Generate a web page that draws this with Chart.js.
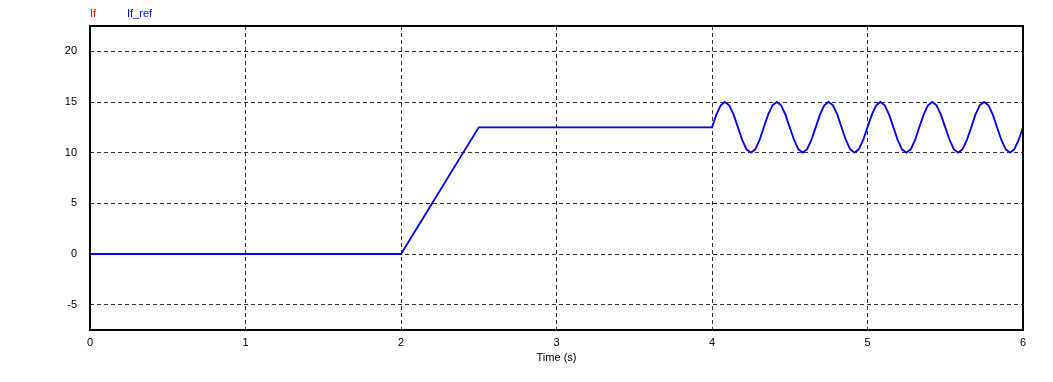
<!DOCTYPE html>
<html>
<head>
<meta charset="utf-8">
<script src="https://cdn.jsdelivr.net/npm/chart.js@4.4.1/dist/chart.umd.min.js"></script>
<style>
    body { margin: 0; background: #fff; }
    #wrap { position: relative; width: 1053px; height: 382px; }
    .lbl { position: absolute; top: 7px; font: 11px "Liberation Sans", Arial, sans-serif; }
</style>
</head>
<body>
<div id="wrap">
    <span class="lbl" style="left:90px;color:#ff0000">If</span>
    <span class="lbl" style="left:127px;color:#0000ff">If_ref</span>
    <canvas id="lineChart" width="1053" height="382"></canvas>
</div>
<script>
// time samples (s)
const timeValues = [
    0, 2, 2.5,
    4.000, 4.028, 4.056, 4.083, 4.111, 4.139, 4.167, 4.194, 4.222, 4.250, 4.278, 4.306,
    4.333, 4.361, 4.389, 4.417, 4.444, 4.472, 4.500, 4.528, 4.556, 4.583, 4.611, 4.639,
    4.667, 4.694, 4.722, 4.750, 4.778, 4.806, 4.833, 4.861, 4.889, 4.917, 4.944, 4.972,
    5.000, 5.028, 5.056, 5.083, 5.111, 5.139, 5.167, 5.194, 5.222, 5.250, 5.278, 5.306,
    5.333, 5.361, 5.389, 5.417, 5.444, 5.472, 5.500, 5.528, 5.556, 5.583, 5.611, 5.639,
    5.667, 5.694, 5.722, 5.750, 5.778, 5.806, 5.833, 5.861, 5.889, 5.917, 5.944, 5.972,
    6.000
];

// If_ref
const ifRefValues = [
    0, 0, 12.5,
    12.5, 13.75, 14.67, 15, 14.67, 13.75, 12.5, 11.25, 10.33, 10, 10.33, 11.25,
    12.5, 13.75, 14.67, 15, 14.67, 13.75, 12.5, 11.25, 10.33, 10, 10.33, 11.25,
    12.5, 13.75, 14.67, 15, 14.67, 13.75, 12.5, 11.25, 10.33, 10, 10.33, 11.25,
    12.5, 13.75, 14.67, 15, 14.67, 13.75, 12.5, 11.25, 10.33, 10, 10.33, 11.25,
    12.5, 13.75, 14.67, 15, 14.67, 13.75, 12.5, 11.25, 10.33, 10, 10.33, 11.25,
    12.5, 13.75, 14.67, 15, 14.67, 13.75, 12.5, 11.25, 10.33, 10, 10.33, 11.25,
    12.5
];

// If follows the reference (hidden underneath)
const ifValues = [
    0, 0, 12.5,
    12.5, 13.75, 14.67, 15, 14.67, 13.75, 12.5, 11.25, 10.33, 10, 10.33, 11.25,
    12.5, 13.75, 14.67, 15, 14.67, 13.75, 12.5, 11.25, 10.33, 10, 10.33, 11.25,
    12.5, 13.75, 14.67, 15, 14.67, 13.75, 12.5, 11.25, 10.33, 10, 10.33, 11.25,
    12.5, 13.75, 14.67, 15, 14.67, 13.75, 12.5, 11.25, 10.33, 10, 10.33, 11.25,
    12.5, 13.75, 14.67, 15, 14.67, 13.75, 12.5, 11.25, 10.33, 10, 10.33, 11.25,
    12.5, 13.75, 14.67, 15, 14.67, 13.75, 12.5, 11.25, 10.33, 10, 10.33, 11.25,
    12.5
];

const xTicks = [0, 1, 2, 3, 4, 5, 6];
const yTicks = [-5, 0, 5, 10, 15, 20];

function toPoints(values) {
    return values.map(function (v, i) { return { x: timeValues[i], y: v }; });
}

// black frame round the plot area
const frame = {
    id: 'frame',
    afterDatasetsDraw: function (chart) {
        let a = chart.chartArea;
        let ctx = chart.ctx;
        ctx.save();
        ctx.strokeStyle = '#000';
        ctx.lineWidth = 2;
        ctx.strokeRect(a.left, a.top, a.right - a.left, a.bottom - a.top);
        ctx.restore();
    }
};

Chart.defaults.font.family = '"Liberation Sans", Arial, sans-serif';
Chart.defaults.font.size = 11;
Chart.defaults.color = '#000';

new Chart(document.getElementById('lineChart'), {
    type: 'line',
    data: {
        datasets: [
            {
                label: 'If',
                data: toPoints(ifValues),
                borderColor: '#ff0000',
                borderWidth: 0.8,
                pointRadius: 0,
                tension: 0,
                order: 2
            },
            {
                label: 'If_ref',
                data: toPoints(ifRefValues),
                borderColor: '#0000ff',
                borderWidth: 1.8,
                pointRadius: 0,
                tension: 0,
                order: 1
            }
        ]
    },
    options: {
        responsive: false,
        animation: false,
        layout: { padding: { top: 26, right: 30, left: 0, bottom: 0 } },
        plugins: {
            legend: { display: false },
            tooltip: { enabled: false }
        },
        scales: {
            x: {
                type: 'linear',
                min: 0,
                max: 6,
                afterBuildTicks: function (scale) {
                    scale.ticks = xTicks.map(function (v) { return { value: v }; });
                },
                afterFit: function (scale) { scale.height = 52; },
                ticks: { padding: 6, maxRotation: 0 },
                grid: {
                    drawTicks: false,
                    color: function (c) {
                        return (c.tick && (c.tick.value === 0 || c.tick.value === 6)) ? 'rgba(0,0,0,0)' : '#333';
                    },
                    lineWidth: 1
                },
                border: { display: false, dash: [4, 3] },
                title: {
                    display: true,
                    text: 'Time (s)',
                    padding: { top: 2, bottom: 17 }
                }
            },
            y: {
                min: -7.5,
                max: 22.5,
                afterBuildTicks: function (scale) {
                    scale.ticks = yTicks.map(function (v) { return { value: v }; });
                },
                afterFit: function (scale) { scale.width = 90; },
                ticks: { padding: 13 },
                grid: { drawTicks: false, color: '#333', lineWidth: 1 },
                border: { display: false, dash: [4, 3] }
            }
        }
    },
    plugins: [frame]
});
</script>
</body>
</html>
